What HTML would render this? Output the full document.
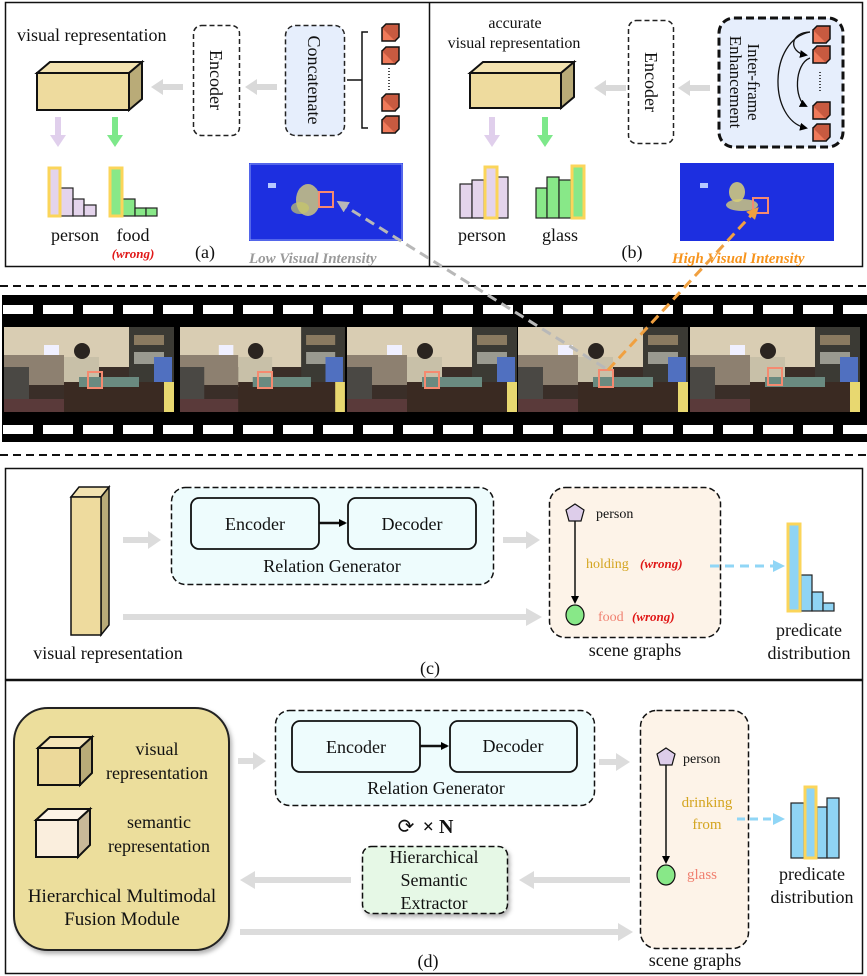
<!DOCTYPE html>
<html><head><meta charset="utf-8"><style>
html,body{margin:0;padding:0;background:#fff}
svg{display:block}
text{font-family:"Liberation Serif",serif;fill:#111}
</style></head><body>
<svg width="867" height="976" viewBox="0 0 867 976" xmlns="http://www.w3.org/2000/svg">
<defs>
<marker id="ah" markerWidth="8" markerHeight="8" refX="6" refY="4" orient="auto" markerUnits="userSpaceOnUse"><path d="M0,0 L8,4 L0,8 z" fill="#000"/></marker>
<marker id="ahb" markerWidth="12" markerHeight="12" refX="9" refY="6" orient="auto" markerUnits="userSpaceOnUse"><path d="M0,0 L12,6 L0,12 z" fill="#90d6f6"/></marker>
<marker id="ahg" markerWidth="12" markerHeight="12" refX="8" refY="6" orient="auto" markerUnits="userSpaceOnUse"><path d="M0,0 L12,6 L0,12 z" fill="#b8b8b8"/></marker>
<marker id="aho" markerWidth="12" markerHeight="12" refX="8" refY="6" orient="auto" markerUnits="userSpaceOnUse"><path d="M0,0 L12,6 L0,12 z" fill="#f0a040"/></marker>
<filter id="sh" x="-10%" y="-10%" width="130%" height="130%"><feDropShadow dx="2" dy="3" stdDeviation="2" flood-color="#000" flood-opacity="0.3"/></filter>
<g id="frame">
 <rect x="0" y="0" width="170" height="85" fill="#3a2e28"/>
 <rect x="0" y="0" width="125" height="40" fill="#d9cdb3"/>
 <rect x="125" y="0" width="45" height="55" fill="#3b3a34"/>
 <rect x="130" y="8" width="30" height="10" fill="#8a7a60"/>
 <rect x="130" y="25" width="30" height="12" fill="#9a9a90"/>
 <rect x="150" y="30" width="18" height="30" fill="#5070c0"/>
 <rect x="0" y="28" width="60" height="30" fill="#8d8070"/>
 <rect x="40" y="18" width="15" height="10" fill="#f0f0ff"/>
 <rect x="60" y="30" width="35" height="30" fill="#c8c0a8"/>
 <circle cx="78" cy="24" r="8" fill="#2a2420"/>
 <rect x="0" y="40" width="25" height="45" fill="#4a4844"/>
 <rect x="60" y="55" width="110" height="30" fill="#3a2a22"/>
 <rect x="75" y="50" width="60" height="10" fill="#6a8a80"/>
 <rect x="160" y="55" width="10" height="30" fill="#e8d870"/>
 <rect x="0" y="72" width="60" height="13" fill="#5a3a3a"/>
</g>
</defs>

<!-- TOP PANELS -->
<rect x="5.5" y="2.5" width="857" height="264" fill="none" stroke="#111" stroke-width="1.5"/>
<line x1="429.5" y1="2" x2="429.5" y2="267" stroke="#111" stroke-width="1.5"/>

<!-- Panel a -->
<text x="17" y="41" font-size="18">visual representation</text>
<polygon points="37,73 50,62 142,62 129,73" fill="#f2e2b0" stroke="#111" stroke-width="2"/>
<polygon points="129,73 142,62 142,99 129,110" fill="#b9ab78" stroke="#111" stroke-width="2"/>
<rect x="37" y="73" width="92" height="37" fill="#eedb9e" stroke="#111" stroke-width="2"/>
<g fill="#d9d9d9">
<polygon points="183,84 163,84 163,79 151,87 163,95 163,90 183,90"/>
<polygon points="277,84 257,84 257,79 245,87 257,95 257,90 277,90"/>
<polygon points="626,85 606,85 606,80 594,88 606,96 606,91 626,91"/>
<polygon points="710,85 690,85 690,80 678,88 690,96 690,91 710,91"/>
</g>
<rect x="193.5" y="25.5" width="46" height="110" rx="8" fill="#fff" stroke="#222" stroke-width="1.5" stroke-dasharray="5,3"/>
<text font-size="18" transform="translate(210,80) rotate(90)" text-anchor="middle">Encoder</text>
<rect x="285.5" y="25.5" width="59" height="110" rx="10" fill="#e6eefc" stroke="#222" stroke-width="1.5" stroke-dasharray="5,3"/>
<text font-size="18" transform="translate(308,80) rotate(90)" text-anchor="middle">Concatenate</text>
<path d="M347,80 H362 M368,32 H362 V128 H368" fill="none" stroke="#111" stroke-width="1.5"/>
<g fill="#f07a5a" stroke="#111" stroke-width="1.5">
<rect x="382" y="28" width="13" height="13"/><path d="M382,28 l4,-4 h13 v13 l-4,4" fill="#c85a40"/>
<rect x="382" y="51" width="13" height="13"/><path d="M382,51 l4,-4 h13 v13 l-4,4" fill="#c85a40"/>
<rect x="382" y="98" width="13" height="13"/><path d="M382,98 l4,-4 h13 v13 l-4,4" fill="#c85a40"/>
<rect x="382" y="120" width="13" height="13"/><path d="M382,120 l4,-4 h13 v13 l-4,4" fill="#c85a40"/>
</g>
<line x1="389" y1="68" x2="389" y2="90" stroke="#111" stroke-width="1.5" stroke-dasharray="1,2"/>
<!-- down arrows a -->
<polygon points="55,117 61,117 61,135 66,135 58,147 50,135 55,135" fill="#e0cfec"/>
<polygon points="112,117 118,117 118,135 123,135 115,147 107,135 112,135" fill="#7de88a"/>
<!-- hist a -->
<g stroke="#222" stroke-width="1.2" fill="#e4d4ec">
<rect x="60" y="188" width="13" height="28"/><rect x="73" y="199" width="11" height="17"/><rect x="84" y="205" width="12" height="11"/>
</g>
<rect x="49" y="168" width="11" height="48" fill="#e4d4ec" stroke="#fbd55a" stroke-width="3"/>
<g stroke="#222" stroke-width="1.2" fill="#88e888">
<rect x="122" y="199" width="13" height="17"/><rect x="135" y="208" width="11" height="8"/><rect x="146" y="208" width="11" height="8"/>
</g>
<rect x="110" y="168" width="12" height="48" fill="#88e888" stroke="#fbd55a" stroke-width="3"/>
<text x="75" y="241" font-size="18" text-anchor="middle">person</text>
<text x="133" y="241" font-size="18" text-anchor="middle">food</text>
<text x="133" y="258" font-size="13" text-anchor="middle" font-style="italic" font-weight="bold" style="fill:#e01818">(wrong)</text>
<text x="205" y="258" font-size="18" text-anchor="middle">(a)</text>
<!-- heatmap a -->
<rect x="249" y="163" width="154" height="78" fill="#1d2fe0"/>
<rect x="250" y="164" width="152" height="76" fill="none" stroke="#8c9cf4" stroke-width="1"/>
<rect x="268" y="183" width="8" height="5" fill="#b8c8ff"/>
<ellipse cx="308" cy="200" rx="12" ry="16" fill="#d8d078" opacity="0.8"/>
<ellipse cx="300" cy="208" rx="9" ry="6" fill="#c8c868" opacity="0.7"/>
<rect x="319" y="192" width="14" height="15" fill="none" stroke="#f58a70" stroke-width="2"/>
<text x="249" y="263" font-size="15" font-style="italic" font-weight="bold" style="fill:#9a9a9a">Low Visual Intensity</text>

<!-- Panel b -->
<text x="515" y="28" font-size="16" text-anchor="middle">accurate</text>
<text x="514" y="48" font-size="16" text-anchor="middle">visual representation</text>
<polygon points="470,73 483,62 574,62 561,73" fill="#f2e2b0" stroke="#111" stroke-width="2"/>
<polygon points="561,73 574,62 574,97 561,108" fill="#b9ab78" stroke="#111" stroke-width="2"/>
<rect x="470" y="73" width="91" height="35" fill="#eedb9e" stroke="#111" stroke-width="2"/>
<rect x="628.5" y="20.5" width="45" height="123" rx="8" fill="#fff" stroke="#222" stroke-width="1.5" stroke-dasharray="5,3"/>
<text font-size="18" transform="translate(645,82) rotate(90)" text-anchor="middle">Encoder</text>
<rect x="719" y="18" width="124" height="129" rx="15" fill="#e6eefc" stroke="#111" stroke-width="3" stroke-dasharray="8,4"/>
<text font-size="17" transform="translate(748,82) rotate(90)" text-anchor="middle">Inter-frame</text>
<text font-size="17" transform="translate(730,82) rotate(90)" text-anchor="middle">Enhancement</text>
<g fill="none" stroke="#111" stroke-width="1.3" marker-end="url(#ah)">
<path d="M810,32 C790,32 788,52 806,55"/>
<path d="M810,58 C794,64 794,100 806,106"/>
<path d="M810,32 C768,40 768,120 806,128"/>
</g>
<g fill="#f07a5a" stroke="#111" stroke-width="1.5">
<rect x="813" y="30" width="13" height="13"/><path d="M813,30 l4,-4 h13 v13 l-4,4" fill="#c85a40"/>
<rect x="813" y="50" width="13" height="13"/><path d="M813,50 l4,-4 h13 v13 l-4,4" fill="#c85a40"/>
<rect x="813" y="106" width="13" height="13"/><path d="M813,106 l4,-4 h13 v13 l-4,4" fill="#c85a40"/>
<rect x="813" y="128" width="13" height="13"/><path d="M813,128 l4,-4 h13 v13 l-4,4" fill="#c85a40"/>
</g>
<line x1="820" y1="72" x2="820" y2="92" stroke="#111" stroke-width="1.5" stroke-dasharray="1,2"/>
<polygon points="489,117 495,117 495,135 500,135 492,147 484,135 489,135" fill="#e0cfec"/>
<polygon points="542,117 548,117 548,135 553,135 545,147 537,135 542,135" fill="#7de88a"/>
<g stroke="#222" stroke-width="1.2" fill="#e4d4ec">
<rect x="460" y="184" width="12" height="34"/><rect x="472" y="180" width="12" height="38"/><rect x="497" y="177" width="11" height="41"/>
</g>
<rect x="485" y="167" width="12" height="51" fill="#e4d4ec" stroke="#fbd55a" stroke-width="3"/>
<g stroke="#222" stroke-width="1.2" fill="#88e888">
<rect x="536" y="188" width="11" height="30"/><rect x="547" y="177" width="12" height="41"/><rect x="559" y="180" width="12" height="38"/>
</g>
<rect x="572" y="166" width="12" height="52" fill="#88e888" stroke="#fbd55a" stroke-width="3"/>
<text x="482" y="241" font-size="18" text-anchor="middle">person</text>
<text x="560" y="241" font-size="18" text-anchor="middle">glass</text>
<text x="632" y="258" font-size="18" text-anchor="middle">(b)</text>
<rect x="680" y="163" width="154" height="78" fill="#1d2fe0"/>
<rect x="700" y="183" width="8" height="5" fill="#b8c8ff"/>
<ellipse cx="737" cy="192" rx="8" ry="10" fill="#d8d078" opacity="0.85"/>
<ellipse cx="742" cy="205" rx="16" ry="6" fill="#d8d078" opacity="0.8"/>
<rect x="753" y="198" width="15" height="15" fill="none" stroke="#f58a70" stroke-width="2"/>
<text x="672" y="263" font-size="15" font-style="italic" font-weight="bold" style="fill:#f7941d">High Visual Intensity</text>

<!-- dashed separators -->
<line x1="0" y1="286" x2="867" y2="286" stroke="#111" stroke-width="2" stroke-dasharray="8,5"/>
<line x1="0" y1="455" x2="867" y2="455" stroke="#111" stroke-width="2" stroke-dasharray="8,5"/>

<!-- film strip -->
<rect x="2" y="295" width="865" height="147" fill="#000"/>
<g fill="#fff">
<rect x="3" y="305" width="30" height="9"/><rect x="43" y="305" width="30" height="9"/><rect x="83" y="305" width="30" height="9"/><rect x="123" y="305" width="30" height="9"/><rect x="163" y="305" width="30" height="9"/><rect x="203" y="305" width="30" height="9"/><rect x="243" y="305" width="30" height="9"/><rect x="283" y="305" width="30" height="9"/><rect x="323" y="305" width="30" height="9"/><rect x="363" y="305" width="30" height="9"/><rect x="403" y="305" width="30" height="9"/><rect x="443" y="305" width="30" height="9"/><rect x="483" y="305" width="30" height="9"/><rect x="523" y="305" width="30" height="9"/><rect x="563" y="305" width="30" height="9"/><rect x="603" y="305" width="30" height="9"/><rect x="643" y="305" width="30" height="9"/><rect x="683" y="305" width="30" height="9"/><rect x="723" y="305" width="30" height="9"/><rect x="763" y="305" width="30" height="9"/><rect x="803" y="305" width="30" height="9"/><rect x="843" y="305" width="24" height="9"/>
<rect x="3" y="425" width="30" height="9"/><rect x="43" y="425" width="30" height="9"/><rect x="83" y="425" width="30" height="9"/><rect x="123" y="425" width="30" height="9"/><rect x="163" y="425" width="30" height="9"/><rect x="203" y="425" width="30" height="9"/><rect x="243" y="425" width="30" height="9"/><rect x="283" y="425" width="30" height="9"/><rect x="323" y="425" width="30" height="9"/><rect x="363" y="425" width="30" height="9"/><rect x="403" y="425" width="30" height="9"/><rect x="443" y="425" width="30" height="9"/><rect x="483" y="425" width="30" height="9"/><rect x="523" y="425" width="30" height="9"/><rect x="563" y="425" width="30" height="9"/><rect x="603" y="425" width="30" height="9"/><rect x="643" y="425" width="30" height="9"/><rect x="683" y="425" width="30" height="9"/><rect x="723" y="425" width="30" height="9"/><rect x="763" y="425" width="30" height="9"/><rect x="803" y="425" width="30" height="9"/><rect x="843" y="425" width="24" height="9"/>
</g>
<use href="#frame" transform="translate(4,327)"/>
<use href="#frame" transform="translate(180,327) scale(0.97,1)"/>
<use href="#frame" transform="translate(347,327)"/>
<use href="#frame" transform="translate(518,327)"/>
<use href="#frame" transform="translate(690,327)"/>
<g fill="none" stroke="#f58a70" stroke-width="2">
<rect x="88" y="372" width="14" height="16"/><rect x="258" y="372" width="14" height="16"/><rect x="425" y="372" width="14" height="16"/><rect x="599" y="370" width="14" height="17"/><rect x="768" y="368" width="14" height="17"/>
</g>
<line x1="605" y1="368" x2="340" y2="203" stroke="#b8b8b8" stroke-width="3" stroke-dasharray="10,6" marker-end="url(#ahg)"/>
<line x1="608" y1="370" x2="756" y2="210" stroke="#f0a040" stroke-width="3" stroke-dasharray="10,6" marker-end="url(#aho)"/>

<!-- Panel c -->
<rect x="5.5" y="468.5" width="857" height="211" fill="none" stroke="#111" stroke-width="1.5"/>
<polygon points="71,497 79,487 109,487 101,497" fill="#f2e2b0" stroke="#111" stroke-width="1.5"/>
<polygon points="101,497 109,487 109,625 101,635" fill="#b9ab78" stroke="#111" stroke-width="1.5"/>
<rect x="71" y="497" width="30" height="138" fill="#eedb9e" stroke="#111" stroke-width="1.5"/>
<text x="108" y="659" font-size="18" text-anchor="middle">visual representation</text>
<g fill="#dcdcdc">
<polygon points="123,537 148,537 148,531 161,540 148,549 148,543 123,543"/>
<polygon points="503,537 526,537 526,531 540,540 526,549 526,543 503,543"/>
<polygon points="123,614 526,614 526,608 542,617 526,626 526,620 123,620"/>
</g>
<rect x="171.5" y="487.5" width="322" height="97" rx="14" fill="#eefcfd" stroke="#111" stroke-width="1.5" stroke-dasharray="6,3"/>
<rect x="191" y="498" width="128" height="51" rx="8" fill="#eefcfd" stroke="#111" stroke-width="1.8"/>
<rect x="348" y="498" width="128" height="51" rx="8" fill="#eefcfd" stroke="#111" stroke-width="1.8"/>
<line x1="319" y1="523" x2="345" y2="523" stroke="#111" stroke-width="2.5" marker-end="url(#ah)"/>
<text x="255" y="530" font-size="18" text-anchor="middle">Encoder</text>
<text x="412" y="530" font-size="18" text-anchor="middle">Decoder</text>
<text x="332" y="572" font-size="18" text-anchor="middle">Relation Generator</text>
<rect x="549.5" y="487.5" width="171" height="150" rx="16" fill="#fdf3e8" stroke="#111" stroke-width="1.5" stroke-dasharray="6,3"/>
<polygon points="575,504 584,510 581,521 569,521 566,510" fill="#ddcdea" stroke="#111" stroke-width="1.2"/>
<text x="596" y="518" font-size="14">person</text>
<line x1="575" y1="521" x2="575" y2="602" stroke="#111" stroke-width="1.5" marker-end="url(#ah)"/>
<ellipse cx="575" cy="615" rx="9" ry="10" fill="#88e888" stroke="#111" stroke-width="1.2"/>
<text x="586" y="568" font-size="14" style="fill:#d4a520">holding</text>
<text x="640" y="568" font-size="13" font-style="italic" font-weight="bold" style="fill:#e01818">(wrong)</text>
<text x="598" y="621" font-size="14" style="fill:#f08070">food</text>
<text x="632" y="621" font-size="13" font-style="italic" font-weight="bold" style="fill:#e01818">(wrong)</text>
<line x1="710" y1="566" x2="782" y2="566" stroke="#90d6f6" stroke-width="3" stroke-dasharray="9,6" marker-end="url(#ahb)"/>
<g stroke="#222" stroke-width="1.2" fill="#8fd4f4">
<rect x="801" y="575" width="11" height="36"/><rect x="812" y="592" width="11" height="19"/><rect x="823" y="603" width="11" height="8"/>
</g>
<rect x="788" y="524" width="12" height="87" fill="#8fd4f4" stroke="#fbd55a" stroke-width="3"/>
<text x="635" y="656" font-size="18" text-anchor="middle">scene graphs</text>
<text x="809" y="636" font-size="18" text-anchor="middle">predicate</text>
<text x="809" y="659" font-size="18" text-anchor="middle">distribution</text>
<text x="430" y="674" font-size="18" text-anchor="middle">(c)</text>

<!-- Panel d -->
<rect x="5.5" y="680.5" width="857" height="293" fill="none" stroke="#111" stroke-width="1.5"/>
<rect x="14" y="708" width="215" height="242" rx="34" fill="#ecde9c" stroke="#222" stroke-width="2" filter="url(#sh)"/>
<polygon points="38,748 50,737 92,737 80,748" fill="#f4e4b8" stroke="#111" stroke-width="2"/>
<polygon points="80,748 92,737 92,773 80,785" fill="#b9ab78" stroke="#111" stroke-width="2"/>
<rect x="38" y="748" width="42" height="37" fill="#ecd99a" stroke="#111" stroke-width="2"/>
<polygon points="36,820 48,809 90,809 78,820" fill="#fdf3e6" stroke="#111" stroke-width="2"/>
<polygon points="78,820 90,809 90,845 78,857" fill="#c8b898" stroke="#111" stroke-width="2"/>
<rect x="36" y="820" width="42" height="37" fill="#faeedd" stroke="#111" stroke-width="2"/>
<text x="157" y="755" font-size="18" text-anchor="middle">visual</text>
<text x="157" y="779" font-size="18" text-anchor="middle">representation</text>
<text x="159" y="828" font-size="18" text-anchor="middle">semantic</text>
<text x="159" y="852" font-size="18" text-anchor="middle">representation</text>
<text x="122" y="902" font-size="19" text-anchor="middle">Hierarchical Multimodal</text>
<text x="122" y="925" font-size="19" text-anchor="middle">Fusion Module</text>
<g fill="#dcdcdc">
<polygon points="238,758 253,758 253,752 266,761 253,770 253,764 238,764"/>
<polygon points="599,759 616,759 616,753 630,762 616,771 616,765 599,765"/>
<polygon points="351,877 255,877 255,871 240,880 255,889 255,883 351,883"/>
<polygon points="630,877 534,877 534,871 519,880 534,889 534,883 630,883"/>
<polygon points="240,929 618,929 618,923 633,932 618,941 618,935 240,935"/>
</g>
<rect x="275.5" y="710.5" width="319" height="95" rx="14" fill="#eefcfd" stroke="#111" stroke-width="1.5" stroke-dasharray="6,3"/>
<rect x="292" y="721" width="128" height="51" rx="8" fill="#eefcfd" stroke="#111" stroke-width="1.8"/>
<rect x="450" y="721" width="127" height="51" rx="8" fill="#eefcfd" stroke="#111" stroke-width="1.8"/>
<line x1="420" y1="746" x2="447" y2="746" stroke="#111" stroke-width="2.5" marker-end="url(#ah)"/>
<text x="356" y="753" font-size="18" text-anchor="middle">Encoder</text>
<text x="513" y="752" font-size="18" text-anchor="middle">Decoder</text>
<text x="436" y="794" font-size="18" text-anchor="middle">Relation Generator</text>
<text x="406" y="833" font-size="20" text-anchor="middle">⟳</text>
<text x="438" y="833" font-size="20" text-anchor="middle" font-weight="bold">× N</text>
<rect x="362.5" y="846.5" width="145" height="67" rx="9" fill="#e6f8e6" stroke="#111" stroke-width="1.5" stroke-dasharray="6,3" filter="url(#sh)"/>
<text x="434" y="863" font-size="18" text-anchor="middle">Hierarchical</text>
<text x="434" y="886" font-size="18" text-anchor="middle">Semantic</text>
<text x="434" y="909" font-size="18" text-anchor="middle">Extractor</text>
<rect x="640.5" y="710.5" width="108" height="238" rx="16" fill="#fdf3e8" stroke="#111" stroke-width="1.5" stroke-dasharray="6,3"/>
<polygon points="666,748 675,754 672,765 660,765 657,754" fill="#ddcdea" stroke="#111" stroke-width="1.2"/>
<text x="683" y="763" font-size="14">person</text>
<line x1="666" y1="765" x2="666" y2="862" stroke="#111" stroke-width="1.5" marker-end="url(#ah)"/>
<ellipse cx="666" cy="875" rx="9" ry="10" fill="#88e888" stroke="#111" stroke-width="1.2"/>
<text x="707" y="807" font-size="15" text-anchor="middle" style="fill:#d4a520">drinking</text>
<text x="707" y="829" font-size="15" text-anchor="middle" style="fill:#d4a520">from</text>
<text x="687" y="879" font-size="15" style="fill:#f08070">glass</text>
<line x1="737" y1="819" x2="782" y2="819" stroke="#90d6f6" stroke-width="3" stroke-dasharray="8,5" marker-end="url(#ahb)"/>
<g stroke="#222" stroke-width="1.2" fill="#8fd4f4">
<rect x="791" y="803" width="13" height="55"/><rect x="817" y="807" width="10" height="51"/><rect x="827" y="798" width="12" height="60"/>
</g>
<rect x="805" y="787" width="11" height="71" fill="#8fd4f4" stroke="#fbd55a" stroke-width="3"/>
<text x="812" y="880" font-size="18" text-anchor="middle">predicate</text>
<text x="812" y="903" font-size="18" text-anchor="middle">distribution</text>
<text x="695" y="966" font-size="18" text-anchor="middle">scene graphs</text>
<text x="428" y="967" font-size="18" text-anchor="middle">(d)</text>
</svg>
</body></html>
